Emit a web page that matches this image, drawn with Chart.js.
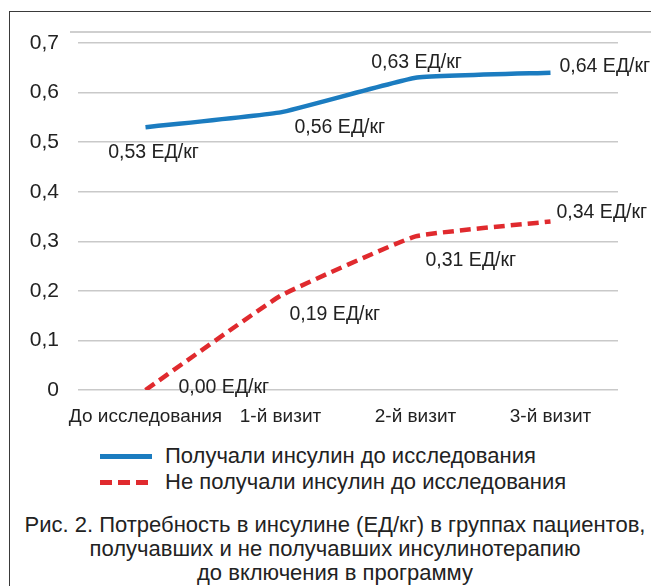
<!DOCTYPE html>
<html>
<head>
<meta charset="utf-8">
<script src="https://cdn.jsdelivr.net/npm/chart.js@4.4.1/dist/chart.umd.min.js"></script>
<style>
  html, body { margin: 0; padding: 0; background: #fff; }
  body { width: 651px; height: 586px; position: relative; overflow: hidden; font-family: "Liberation Sans", Arial, sans-serif; color: #222; }
  .frame { position: absolute; left: 9px; top: 11px; width: 700px; height: 640px; border: 1.5px solid #3a3a3a; box-sizing: border-box; }
  .topline { position: absolute; left: 70px; top: 31px; width: 600px; height: 1.5px; background: #cfcfcf; }
  #wrap { position: absolute; left: 0; top: 0; width: 651px; height: 430px; }
  .legend { position: absolute; left: 100px; font-family: "Liberation Sans", Arial, sans-serif; font-size: 22px; }
  .legend .row { position: absolute; left: 0; white-space: nowrap; height: 24px; line-height: 24px; }
  .legend .swatch { position: absolute; left: 0; top: 10px; width: 52px; height: 4.5px; }
  .legend .txt { position: absolute; left: 65px; top: 0; }
  .caption { position: absolute; left: 0; width: 670px; top: 513px; text-align: center; font-family: "Liberation Sans", Arial, sans-serif; font-size: 22px; line-height: 24px; white-space: nowrap; }
</style>
</head>
<body>
<div class="frame"></div>
<div class="topline"></div>
<div id="wrap"><canvas id="myChart" width="651" height="430"></canvas></div>
<div class="legend" id="legend"></div>
<div class="caption">Рис. 2. Потребность в инсулине (ЕД/кг) в группах пациентов,<br>получавших и не получавших инсулинотерапию<br>до включения в программу</div>
<script>
// data
const categories = ['До исследования', '1-й визит', '2-й визит', '3-й визит'];
const withInsulin = [0.53, 0.56, 0.63, 0.64];
const withoutInsulin = [0, 0.19, 0.31, 0.34];
const seriesNames = ['Получали инсулин до исследования', 'Не получали инсулин до исследования'];
const yTickLabels = ['0', '0,1', '0,2', '0,3', '0,4', '0,5', '0,6', '0,7'];
const unit = ' ЕД/кг';

const blue = '#1b7cc0';
const red = '#e02a2e';

// where each value label sits relative to its point
const labelPos = [
    [{ dx: 8, dy: 25, align: 'center' }, { dx: 14, dy: 15, align: 'left' }, { dx: 1, dy: -15, align: 'center' }, { dx: 9, dy: -6, align: 'left' }],
    [{ dx: 33, dy: -2, align: 'left' }, { dx: 9, dy: 19, align: 'left' }, { dx: 10, dy: 24, align: 'left' }, { dx: 6, dy: -9, align: 'left' }]
];

const valueLabels = {
    id: 'valueLabels',
    afterDatasetsDraw(chart) {
        const ctx = chart.ctx;
        ctx.save();
        ctx.font = '19.5px "Liberation Sans", Arial, sans-serif';
        ctx.fillStyle = '#222';
        ctx.textBaseline = 'middle';
        chart.data.datasets.forEach((ds, di) => {
            chart.getDatasetMeta(di).data.forEach((pt, i) => {
                const p = labelPos[di][i];
                ctx.textAlign = p.align;
                ctx.fillText(ds.data[i].toFixed(2).replace('.', ',') + unit, pt.x + p.dx, pt.y + p.dy);
            });
        });
        ctx.restore();
    }
};

var ctx = document.getElementById('myChart').getContext('2d');
var chart = new Chart(ctx, {
    type: 'line',
    data: {
        labels: categories,
        datasets: [{
            label: seriesNames[0],
            data: withInsulin,
            borderColor: blue,
            borderWidth: 4.5,
            pointRadius: 0,
            tension: 0.1,
            fill: false
        },
        {
            label: seriesNames[1],
            data: withoutInsulin,
            borderColor: red,
            borderWidth: 4.5,
            borderDash: [11, 6],
            pointRadius: 0,
            tension: 0.1,
            fill: false
        }]
    },
    options: {
        responsive: false,
        animation: false,
        layout: { padding: { top: 43, right: 33, bottom: 0, left: 0 } },
        plugins: { legend: { display: false }, tooltip: { enabled: false } },
        scales: {
            x: {
                offset: true,
                grid: { display: false, drawTicks: false },
                border: { display: false },
                ticks: { color: '#222', padding: 15, font: { family: '"Liberation Sans", Arial, sans-serif', size: 19 }, maxRotation: 0, autoSkip: false },
                afterFit: (s) => { s.height = 40; }
            },
            y: {
                min: 0,
                max: 0.7,
                grid: { color: '#c9c9c9', lineWidth: 1.5, drawTicks: false },
                border: { display: false },
                ticks: {
                    stepSize: 0.1,
                    padding: 19,
                    color: '#222',
                    font: { family: '"Liberation Sans", Arial, sans-serif', size: 21 },
                    callback: (v, i) => yTickLabels[i]
                },
                afterFit: (s) => { s.width = 78; }
            }
        }
    },
    plugins: [valueLabels]
});

// legend
const legendEl = document.getElementById('legend');
legendEl.style.top = '444px';
chart.data.datasets.forEach((ds, i) => {
    const row = document.createElement('div');
    row.className = 'row';
    row.style.top = (i * 26) + 'px';
    const sw = document.createElement('div');
    sw.className = 'swatch';
    if (ds.borderDash) {
        sw.style.background = 'repeating-linear-gradient(to right, ' + ds.borderColor + ' 0 12px, transparent 12px 18px)';
    } else {
        sw.style.background = ds.borderColor;
    }
    const tx = document.createElement('div');
    tx.className = 'txt';
    tx.textContent = ds.label;
    row.appendChild(sw);
    row.appendChild(tx);
    legendEl.appendChild(row);
});
</script>
</body>
</html>
